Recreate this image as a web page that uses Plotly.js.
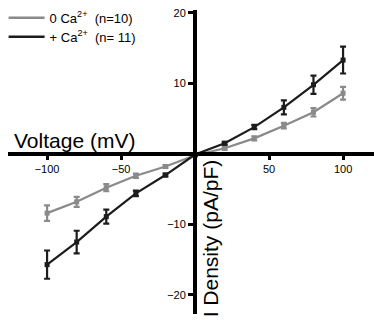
<!DOCTYPE html>
<html><head><meta charset="utf-8">
<script src="https://cdn.plot.ly/plotly-3.0.1.min.js"></script>
<style>body{margin:0;background:#fff}#c{width:374px;height:326px}</style>
</head><body><div id="c"></div>
<script>
const voltage = [-100, -80, -60, -40, -20, 0, 20, 40, 60, 80, 100];
const noCa = [-8.4, -6.8, -4.8, -3.1, -1.8, -0.2, 0.8, 2.2, 4.0, 5.9, 8.6];
const noCaErr = [1.1, 0.7, 0.5, 0.3, 0.2, 0.1, 0.2, 0.3, 0.4, 0.6, 0.9];
const withCa = [-15.7, -12.5, -8.9, -5.6, -3.0, -0.1, 1.5, 3.8, 6.6, 9.8, 13.3];
const withCaErr = [2.0, 1.6, 1.0, 0.4, 0.2, 0.1, 0.2, 0.3, 1.0, 1.3, 1.9];
const names = ['0 Ca<sup>2+</sup>  (n=10)', '+ Ca<sup>2+</sup>  (n= 11)'];
const colors = ['#8a8a8a', '#1c1c1c'];
const xTicks = [-100, -50, 50, 100];
const yTicks = [-20, -10, 10, 20];

const xr = [-126.4, 120.9];
const yr = [-22.7, 20.4];

function dataTrace(y, err, c) {
  return {x: voltage, y: y, type: 'scatter', mode: 'lines+markers', showlegend: false,
    line: {color: c, width: 2.2}, marker: {color: c, size: 5, symbol: 'square'},
    error_y: {type: 'data', array: err, visible: true, color: c, thickness: 2.2, width: 3}};
}
function legTrace(n, c, lg) {
  return {x: [null], y: [null], type: 'scatter', mode: 'lines', name: n, legend: lg, line: {color: c, width: 2.5}};
}
const traces = [dataTrace(noCa, noCaErr, colors[0]), dataTrace(withCa, withCaErr, colors[1]),
  legTrace(names[0], colors[0], 'legend'), legTrace(names[1], colors[1], 'legend2')];

const legBase = {xanchor: 'left', yanchor: 'top', font: {size: 13}, bgcolor: 'rgba(0,0,0,0)', itemwidth: 36};
const layout = {
  width: 374, height: 326,
  margin: {l: 8, r: 0, t: 10, b: 12},
  paper_bgcolor: '#fff', plot_bgcolor: '#fff',
  font: {family: 'Liberation Sans, Arial, sans-serif', color: '#000', size: 11},
  showlegend: true,
  legend: Object.assign({x: -0.012, y: 1.024}, legBase),
  legend2: Object.assign({x: -0.012, y: 0.961}, legBase),
  xaxis: {range: xr, anchor: 'free', position: (0 - yr[0]) / (yr[1] - yr[0]),
    showline: true, linewidth: 4, linecolor: '#000', showgrid: false, zeroline: false,
    tickmode: 'array', tickvals: xTicks, ticks: 'outside', ticklen: 4, tickwidth: 3, tickcolor: '#000',
    tickfont: {size: 11}},
  yaxis: {range: yr, anchor: 'free', position: (0 - xr[0]) / (xr[1] - xr[0]),
    showline: true, linewidth: 4, linecolor: '#000', showgrid: false, zeroline: false,
    tickmode: 'array', tickvals: yTicks, ticks: 'outside', ticklen: 5, tickwidth: 3, tickcolor: '#000',
    tickfont: {size: 11}},
  annotations: [
    {text: 'Voltage (mV)', xref: 'paper', yref: 'y', x: 0.011, y: -0.05, xanchor: 'left', yanchor: 'bottom', showarrow: false, font: {size: 21}},
    {text: 'I Density (pA/pF)', xref: 'x', yref: 'y', x: 1.5, y: -12.0, xanchor: 'left', yanchor: 'middle', textangle: -90, showarrow: false, font: {size: 21}}
  ]
};
Plotly.newPlot('c', traces, layout, {displayModeBar: false, staticPlot: true});
</script></body></html>
